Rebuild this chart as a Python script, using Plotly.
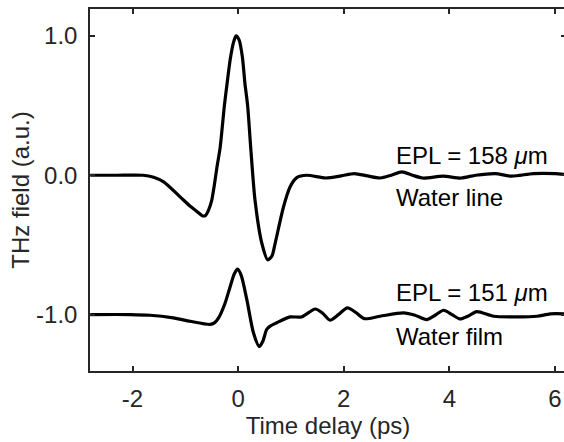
import plotly.graph_objects as go

# Water line (offset 0)
line_t = [-2.80, -2.30, -1.80, -1.60, -1.41, -1.10, -0.90, -0.78, -0.68, -0.62, -0.56, -0.50,
          -0.45, -0.40, -0.34, -0.26, -0.21, -0.15, -0.09, -0.04, 0.02, 0.08, 0.13, 0.18, 0.24,
          0.32, 0.45, 0.56, 0.64, 0.70, 0.86, 0.985, 1.11, 1.30, 1.66, 1.95, 2.20, 2.45, 2.69,
          2.90, 3.10, 3.30, 3.50, 3.88, 4.22, 4.50, 4.87, 5.18, 5.59, 6.00, 6.21]
line_v = [0.0, 0.0, 0.0, -0.015, -0.048, -0.155, -0.225, -0.26, -0.29, -0.29, -0.25, -0.18,
          -0.07, 0.06, 0.20, 0.50, 0.655, 0.83, 0.95, 1.0, 0.97, 0.85, 0.655, 0.50, 0.19,
          -0.18, -0.49, -0.607, -0.58, -0.49, -0.226, -0.083, -0.017, 0.0, -0.02, -0.005, 0.012, -0.005, -0.02,
          0.0, 0.024, 0.0, -0.02, -0.007, -0.02, 0.0, 0.012, -0.007, 0.012, 0.012, 0.005]

# Water film (offset -1)
film_t = [-2.80, -2.05, -1.67, -1.23, -0.91, -0.53, -0.45, -0.37, -0.246, -0.15, -0.07, -0.01,
          0.06, 0.165, 0.29, 0.40, 0.47, 0.54, 0.606, 0.73, 0.985, 1.20, 1.46, 1.60, 1.74, 1.90,
          2.07, 2.23, 2.39, 2.69, 3.13, 3.35, 3.57, 3.73, 3.89, 4.05, 4.20, 4.36, 4.52, 4.84,
          5.28, 5.66, 5.91, 6.21]
film_v = [-1.0, -1.0, -1.005, -1.024, -1.048, -1.071, -1.06, -1.024, -0.917, -0.798, -0.705, -0.674,
          -0.72, -0.893, -1.131, -1.23, -1.19, -1.107, -1.083, -1.059, -1.017, -1.017, -0.960, -0.99, -1.04, -1.0,
          -0.952, -0.985, -1.029, -1.012, -0.988, -1.005, -1.036, -1.005, -0.969, -1.0, -1.031, -1.01, -0.979, -1.012,
          -1.017, -1.012, -0.995, -0.995]

x_ticks = [-2, 0, 2, 4, 6]
x_tick_text = ["-2", "0", "2", "4", "6"]
y_ticks = [-1.0, 0.0, 1.0]
y_tick_text = ["-1.0", "0.0", "1.0"]

labels_text = ["EPL = 158 <i>μ</i>m", "Water line", "EPL = 151 <i>μ</i>m", "Water film"]
labels_y = [0.143, -0.16, -0.845, -1.16]
labels_x = 2.97

FONT = "Liberation Sans, Arial, Helvetica, sans-serif"
AX = "#262626"

fig = go.Figure()
for t, v in [(line_t, line_v), (film_t, film_v)]:
    fig.add_trace(go.Scatter(x=t, y=v, mode="lines",
                             line=dict(color="black", width=3.2, shape="spline", smoothing=0.7),
                             showlegend=False, hoverinfo="skip"))

for txt, yy in zip(labels_text, labels_y):
    fig.add_annotation(x=labels_x, y=yy, xref="x", yref="y", text=txt, showarrow=False,
                       xanchor="left", yanchor="middle", borderpad=0,
                       font=dict(family=FONT, size=24, color="black"))

axis_common = dict(showline=True, linecolor=AX, linewidth=1.5, mirror="ticks",
                   ticks="inside", ticklen=5, tickwidth=1.5, tickcolor=AX,
                   showgrid=False, zeroline=False, automargin=False,
                   tickfont=dict(family=FONT, size=24, color=AX))

fig.update_xaxes(range=[-2.805, 6.209], tickmode="array", tickvals=x_ticks, ticktext=x_tick_text,
                 title=dict(text="Time delay (ps)", font=dict(family=FONT, size=24, color=AX), standoff=4),
                 ticklabelstandoff=5, **axis_common)
fig.update_yaxes(range=[-1.405, 1.193], tickmode="array", tickvals=y_ticks, ticktext=y_tick_text,
                 title=dict(text="THz field (a.u.)", font=dict(family=FONT, size=24, color=AX), standoff=0),
                 ticklabelstandoff=6, **axis_common)

fig.update_layout(width=566, height=442, margin=dict(l=90, r=0, t=9, b=71, autoexpand=False),
                  paper_bgcolor="white", plot_bgcolor="white")

fig.write_html("out.html", config={"displayModeBar": False},
               post_script="document.body.style.margin='0';document.body.style.overflow='hidden';")
